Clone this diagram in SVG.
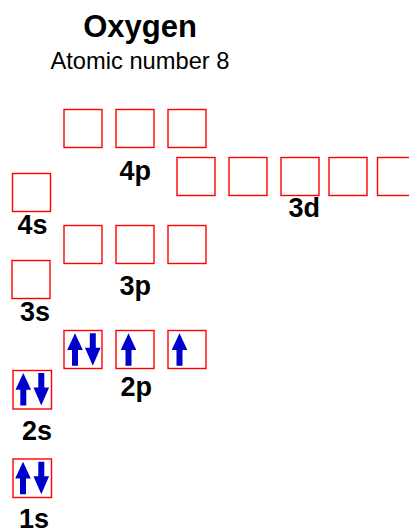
<svg xmlns="http://www.w3.org/2000/svg" xmlns:xlink="http://www.w3.org/1999/xlink" width="409" height="531" viewBox="0 0 409 531">
<style>
.box{fill:#ffffff;stroke:#ff0000;stroke-width:1.4}
.lbl{font-family:"Liberation Sans",Arial,sans-serif;font-weight:bold;font-size:27px;fill:#000}
.title{font-family:"Liberation Sans",Arial,sans-serif;font-weight:bold;font-size:31px;fill:#000}
.sub{font-family:"Liberation Sans",Arial,sans-serif;font-size:23.7px;fill:#000}
.e{fill:#0000cc}
</style>
<defs>
<path id="up" class="e" d="M0,0 L7.8,16.7 L3,16.7 L3,32.5 L-3,32.5 L-3,16.7 L-7.8,16.7 Z"/>
<path id="dn" class="e" d="M-3,0 L3,0 L3,14.5 L7.8,14.5 L0,32.5 L-7.8,14.5 L-3,14.5 Z"/>
</defs>
<rect width="409" height="531" fill="#ffffff"/>
<g id="title">
<text class="title" x="140" y="37" text-anchor="middle">Oxygen</text>
<text class="sub" x="140" y="69" text-anchor="middle">Atomic number 8</text>
</g>
<g id="orbital-4p">
<rect class="box" x="64" y="109.5" width="38" height="38"/>
<rect class="box" x="116" y="109.5" width="38" height="38"/>
<rect class="box" x="168" y="109.5" width="38" height="38"/>
<text class="lbl" x="119.5" y="180">4p</text>
</g>
<g id="orbital-4s">
<rect class="box" x="12.5" y="173.5" width="38" height="38"/>
<text class="lbl" x="17.5" y="234">4s</text>
</g>
<g id="orbital-3d">
<rect class="box" x="177" y="157.5" width="38" height="38"/>
<rect class="box" x="229" y="157.5" width="38" height="38"/>
<rect class="box" x="281" y="157.5" width="38" height="38"/>
<rect class="box" x="329" y="157.5" width="38" height="38"/>
<rect class="box" x="377.5" y="157.5" width="38" height="38"/>
<text class="lbl" x="288.5" y="217">3d</text>
</g>
<g id="orbital-3p">
<rect class="box" x="64" y="225.5" width="38" height="38"/>
<rect class="box" x="116" y="225.5" width="38" height="38"/>
<rect class="box" x="168" y="225.5" width="38" height="38"/>
<text class="lbl" x="119.5" y="295">3p</text>
</g>
<g id="orbital-3s">
<rect class="box" x="12" y="260.5" width="38" height="38"/>
<text class="lbl" x="20" y="321">3s</text>
</g>
<g id="orbital-2p">
<rect class="box" x="64" y="330.5" width="38" height="38"/>
<rect class="box" x="116" y="330.5" width="38" height="38"/>
<rect class="box" x="168" y="330.5" width="38" height="38"/>
<use xlink:href="#up" transform="translate(75,333.3)"/>
<use xlink:href="#dn" transform="translate(92.8,333.3)"/>
<use xlink:href="#up" transform="translate(128.5,333.3)"/>
<use xlink:href="#up" transform="translate(179.5,333.3)"/>
<text class="lbl" x="120.5" y="396">2p</text>
</g>
<g id="orbital-2s">
<rect class="box" x="13" y="370.5" width="38.5" height="38.5"/>
<use xlink:href="#up" transform="translate(23.3,373)"/>
<use xlink:href="#dn" transform="translate(41.3,373)"/>
<text class="lbl" x="22" y="440">2s</text>
</g>
<g id="orbital-1s">
<rect class="box" x="13" y="459" width="38.5" height="38.5"/>
<use xlink:href="#up" transform="translate(23,461.7)"/>
<use xlink:href="#dn" transform="translate(41.3,461.7)"/>
<text class="lbl" x="19" y="527.5">1s</text>
</g>
</svg>
